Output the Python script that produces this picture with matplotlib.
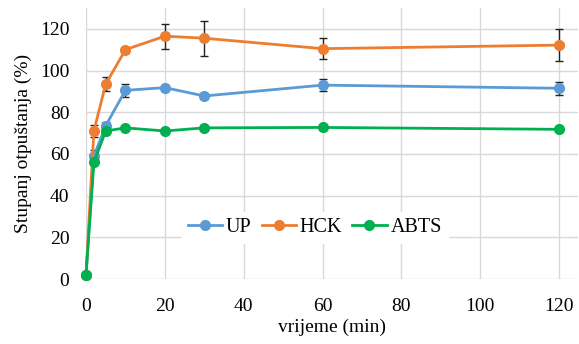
import matplotlib
matplotlib.use("Agg")
import matplotlib.pyplot as plt
from matplotlib.lines import Line2D

plt.rcParams['font.family'] = ['Liberation Serif', 'DejaVu Serif']

vrijeme = [0, 2, 5, 10, 20, 30, 60, 120]
up = [2, 59, 73.5, 90.5, 91.8, 87.8, 93, 91.5]
up_err = [0, 3, 2, 3, 1.5, 1.5, 3, 3]
hck = [2, 71, 93.5, 110, 116.5, 115.5, 110.5, 112.2]
hck_err = [0, 3, 3.5, 1.5, 6, 8.5, 5, 7.5]
abts = [2, 56, 71, 72.5, 71, 72.5, 72.7, 71.8]
abts_err = [0, 1, 1, 1, 1, 1, 1, 1]

serije = [("UP", up, up_err, "#5B9BD5"),
          ("HCK", hck, hck_err, "#ED7D31"),
          ("ABTS", abts, abts_err, "#00B050")]

fig = plt.figure(figsize=(5.79, 3.44), dpi=100)
ax = fig.add_axes([86/579, 1-279/344, 492/579, 271/344])

handles = []
for naziv, vals, err, boja in serije:
    ax.errorbar(vrijeme, vals, yerr=err, color=boja, ecolor='#222222', elinewidth=1,
                capsize=3, capthick=1, lw=2, marker='o', ms=7,
                clip_on=False, zorder=3)
    handles.append(Line2D([], [], color=boja, lw=2, marker='o', ms=7, label=naziv))

ax.set_xlim(0, 124.8)
ax.set_ylim(0, 130)
ax.set_xticks(range(0, 121, 20))
ax.set_yticks(range(0, 121, 20))
ax.grid(True, color='#d9d9d9', lw=1)
ax.set_axisbelow(True)
for s in ax.spines.values():
    s.set_visible(False)
ax.tick_params(length=0, labelsize=14)
ax.tick_params(axis='x', pad=14)
ax.tick_params(axis='y', pad=12)
ax.set_xlabel("vrijeme (min)", fontsize=14, labelpad=2)
ax.set_ylabel("Stupanj otpuštanja (%)", fontsize=14, labelpad=6)

leg = ax.legend(handles=handles, loc='center', bbox_to_anchor=(0.465, 0.19), ncol=3,
                frameon=True, fontsize=14.5, handlelength=1.7, columnspacing=0.5,
                handletextpad=0.2, borderpad=0.3, fancybox=False)
leg.get_frame().set_edgecolor('white')
leg.get_frame().set_facecolor('white')
leg.get_frame().set_alpha(1)

fig.savefig("out.png", dpi=100)
